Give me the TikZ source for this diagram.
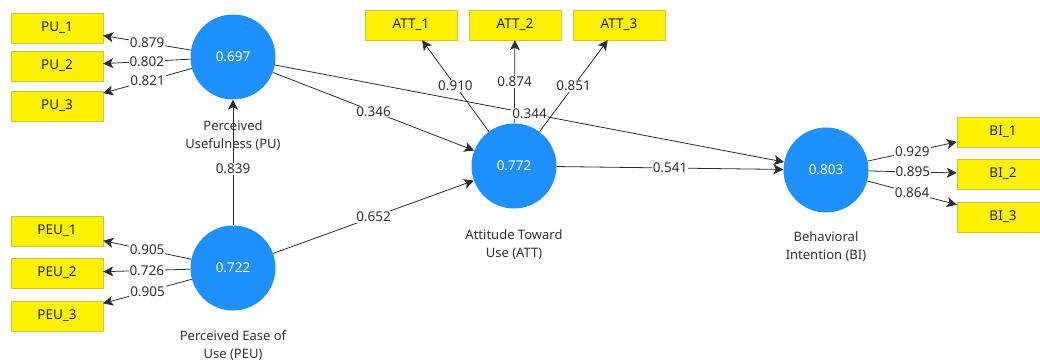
\documentclass[tikz,border=0pt]{standalone}
\usepackage{fontspec}
\setmainfont{Noto Sans}
\usetikzlibrary{arrows.meta}
\definecolor{latblue}{RGB}{30,144,255}
\definecolor{boxedge}{RGB}{200,200,60}
\definecolor{linegray}{RGB}{45,45,45}
\definecolor{textgray}{RGB}{50,50,50}
\begin{document}
\begin{tikzpicture}[x=1pt,y=-1pt,
 lv/.style={circle, fill=latblue, minimum size=85pt, inner sep=0pt, text=white, font=\fontsize{13.5}{15}\selectfont},
 ind/.style={rectangle, draw=boxedge, fill=yellow, minimum width=92pt, minimum height=30pt, inner sep=0pt, text=black!85, font=\fontsize{13.5}{15}\selectfont},
 lvcaption/.style={align=center, font=\fontsize{13}{18}\selectfont, text=textgray},
 link/.style={draw=linegray, line width=0.8pt, -{Stealth[length=10pt,width=10pt,inset=2.5pt]}},
 coef/.style={fill=white, inner sep=1pt, font=\fontsize{13.5}{15}\selectfont, text=textgray}]
\useasboundingbox (0,0) rectangle (1040,363);
% latent variables
\node[lv] (pu) at (233,57) {0.697};
\node[lv] (peu) at (233,268) {0.722};
\node[lv] (att) at (514,166) {0.772};
\node[lv] (bi) at (826,170) {0.803};
% captions
\node[lvcaption] (pucap) at (233,136) {Perceived\\Usefulness (PU)};
\node[lvcaption] (peucap) at (233,346) {Perceived Ease of\\Use (PEU)};
\node[lvcaption] (attcap) at (514,245) {Attitude Toward\\Use (ATT)};
\node[lvcaption] (bicap) at (826,247) {Behavioral\\Intention (BI)};
% indicators
\node[ind] (pu1) at (57,28) {PU\_1};
\node[ind] (pu2) at (57,66) {PU\_2};
\node[ind] (pu3) at (57,106) {PU\_3};
\node[ind] (peu1) at (57,231) {PEU\_1};
\node[ind] (peu2) at (57,273) {PEU\_2};
\node[ind] (peu3) at (57,316) {PEU\_3};
\node[ind] (att1) at (411,25) {ATT\_1};
\node[ind] (att2) at (515,25) {ATT\_2};
\node[ind] (att3) at (619,25) {ATT\_3};
\node[ind] (bi1) at (1003,132) {BI\_1};
\node[ind] (bi2) at (1003,174) {BI\_2};
\node[ind] (bi3) at (1003,217) {BI\_3};
% outer loadings
\draw[link] (pu) -- node[coef]{0.879} (pu1);
\draw[link] (pu) -- node[coef]{0.802} (pu2);
\draw[link] (pu) -- node[coef]{0.821} (pu3);
\draw[link] (peu) -- node[coef]{0.905} (peu1);
\draw[link] (peu) -- node[coef]{0.726} (peu2);
\draw[link] (peu) -- node[coef]{0.905} (peu3);
\draw[link] (att) -- node[coef]{0.910} (att1);
\draw[link] (att) -- node[coef]{0.874} (att2);
\draw[link] (att) -- node[coef]{0.851} (att3);
\draw[link] (bi) -- node[coef]{0.929} (bi1);
\draw[link] (bi) -- node[coef]{0.895} (bi2);
\draw[link] (bi) -- node[coef]{0.864} (bi3);
% path coefficients
\draw[link] (peu) -- node[coef, pos=0.45]{0.839} (pu);
\draw[link] (pu) -- node[coef]{0.346} (att);
\draw[link] (peu) -- node[coef]{0.652} (att);
\draw[link] (pu) -- node[coef]{0.344} (bi);
\draw[link] (att) -- node[coef]{0.541} (bi);
\end{tikzpicture}
\end{document}
